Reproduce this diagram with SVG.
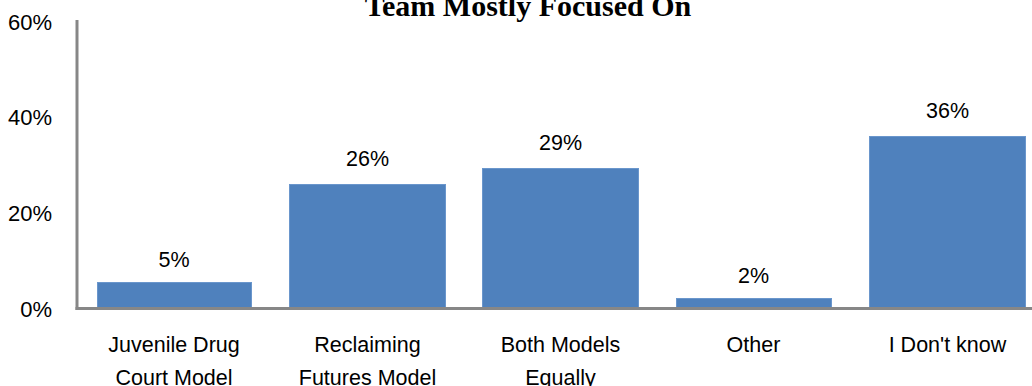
<svg xmlns="http://www.w3.org/2000/svg" width="1032" height="386" viewBox="0 0 1032 386">
<style>
.bar{fill:#4F81BD;stroke:#6A96CC;stroke-width:1}
.t{font-family:"Liberation Sans",Arial,sans-serif;font-size:21.5px;fill:#000}
.c{text-anchor:middle}
.ax{font-family:"Liberation Sans",Arial,sans-serif;font-size:22px;fill:#000;text-anchor:end}
.axis{stroke:#878787;stroke-width:3;fill:none}
.title{font-family:"Liberation Serif","Times New Roman",serif;font-size:30px;font-weight:bold;text-anchor:middle;fill:#000}
</style>
<rect width="1032" height="386" fill="#fff"/>
<text class="title" x="528" y="16">Team Mostly Focused On</text>
<g id="y-axis">
<text class="ax" x="52" y="30">60%</text>
<text class="ax" x="52" y="125">40%</text>
<text class="ax" x="52" y="221">20%</text>
<text class="ax" x="52" y="317">0%</text>
</g>
<g id="bar-juvenile">
<rect class="bar" x="97.5" y="282.5" width="154" height="25"/>
<text class="t c" x="174" y="267">5%</text>
<text class="t c" x="174" y="352">Juvenile Drug</text>
<text class="t c" x="174" y="385">Court Model</text>
</g>
<g id="bar-reclaiming">
<rect class="bar" x="289.5" y="184.5" width="156" height="123"/>
<text class="t c" x="367.5" y="166">26%</text>
<text class="t c" x="367.5" y="352">Reclaiming</text>
<text class="t c" x="367.5" y="385">Futures Model</text>
</g>
<g id="bar-both">
<rect class="bar" x="482.5" y="168.5" width="156" height="139"/>
<text class="t c" x="560.5" y="150">29%</text>
<text class="t c" x="560.5" y="352">Both Models</text>
<text class="t c" x="560.5" y="385">Equally</text>
</g>
<g id="bar-other">
<rect class="bar" x="676.5" y="298.5" width="155" height="9"/>
<text class="t c" x="753.5" y="283">2%</text>
<text class="t c" x="753.5" y="352">Other</text>
</g>
<g id="bar-dontknow">
<rect class="bar" x="869.5" y="136.5" width="156" height="171"/>
<text class="t c" x="947.5" y="118">36%</text>
<text class="t c" x="947.5" y="352">I Don't know</text>
</g>
<g id="axes">
<line class="axis" x1="77" y1="20" x2="77" y2="310"/>
<line class="axis" x1="75.5" y1="308.5" x2="1032" y2="308.5"/>
</g>
</svg>
